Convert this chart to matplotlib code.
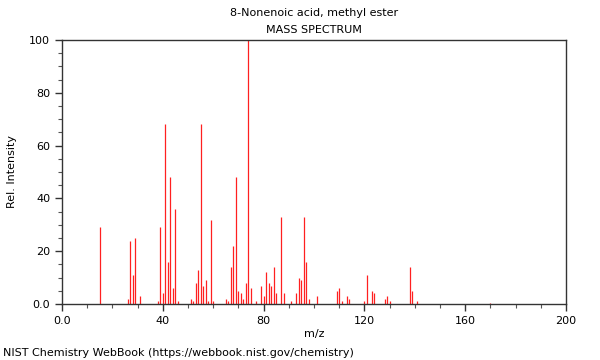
import matplotlib
matplotlib.use("Agg")
import matplotlib.pyplot as plt
from matplotlib.ticker import MultipleLocator, FuncFormatter

# peaks
mz = [15, 26, 27, 28, 29, 31, 38, 39, 40, 41, 42, 43, 44, 45, 46,
      51, 52, 53, 54, 55, 56, 57, 58, 59, 60,
      65, 66, 67, 68, 69, 70, 71, 72, 73, 74, 75, 77,
      79, 80, 81, 82, 83, 84, 85, 87, 88, 91,
      93, 94, 95, 96, 97, 98, 101,
      109, 110, 111, 113, 114, 120, 121, 123, 124,
      128, 129, 130, 138, 139, 141, 170]
intensity = [29, 2, 24, 11, 25, 3, 1, 29, 4, 68, 16, 48, 6, 36, 1,
             2, 1, 8, 13, 68, 7, 9, 1, 32, 1,
             2, 1, 14, 22, 48, 5, 4, 2, 8, 100, 6, 1,
             7, 3, 12, 8, 7, 14, 4, 33, 4, 1,
             4, 10, 9, 33, 16, 2, 3,
             5, 6, 1, 3, 2, 1, 11, 5, 4,
             2, 3, 1, 14, 5, 1, 0.3]

title = "8-Nonenoic acid, methyl ester"
source = "NIST Chemistry WebBook (https://webbook.nist.gov/chemistry)"

fig = plt.figure(figsize=(6, 3.6), dpi=100)
ax = fig.add_axes([62 / 600, 1 - 304 / 360, 504 / 600, 264 / 360])

ax.vlines(mz, 0, intensity, colors="#ff2020", linewidth=0.9)

ax.set_xlim(0, 200)
ax.set_ylim(0, 100)

fmt = FuncFormatter(lambda v, p: "0.0" if v == 0 else f"{v:.0f}")
ax.xaxis.set_major_locator(MultipleLocator(40))
ax.xaxis.set_minor_locator(MultipleLocator(10))
ax.yaxis.set_major_locator(MultipleLocator(20))
ax.yaxis.set_minor_locator(MultipleLocator(5))
ax.xaxis.set_major_formatter(fmt)
ax.yaxis.set_major_formatter(fmt)

ax.tick_params(which="major", length=5, width=1, labelsize=8, colors="#333333",
               labelcolor="black", direction="out")
ax.tick_params(which="minor", length=3, width=0.8, colors="#555555", direction="out")

for s in ax.spines.values():
    s.set_color("#333333")
    s.set_linewidth(1)

ax.set_xlabel("m/z", fontsize=8, labelpad=2)
ax.set_ylabel("Rel. Intensity", fontsize=8, labelpad=9)

fig.text(314 / 600, 1 - 13 / 360, title, ha="center", va="center", fontsize=8)
fig.text(314 / 600, 1 - 30 / 360, "MASS SPECTRUM", ha="center", va="center", fontsize=8)
fig.text(3 / 600, 1 - 353 / 360, source, ha="left", va="center", fontsize=8)

fig.savefig("out.png", dpi=100)
